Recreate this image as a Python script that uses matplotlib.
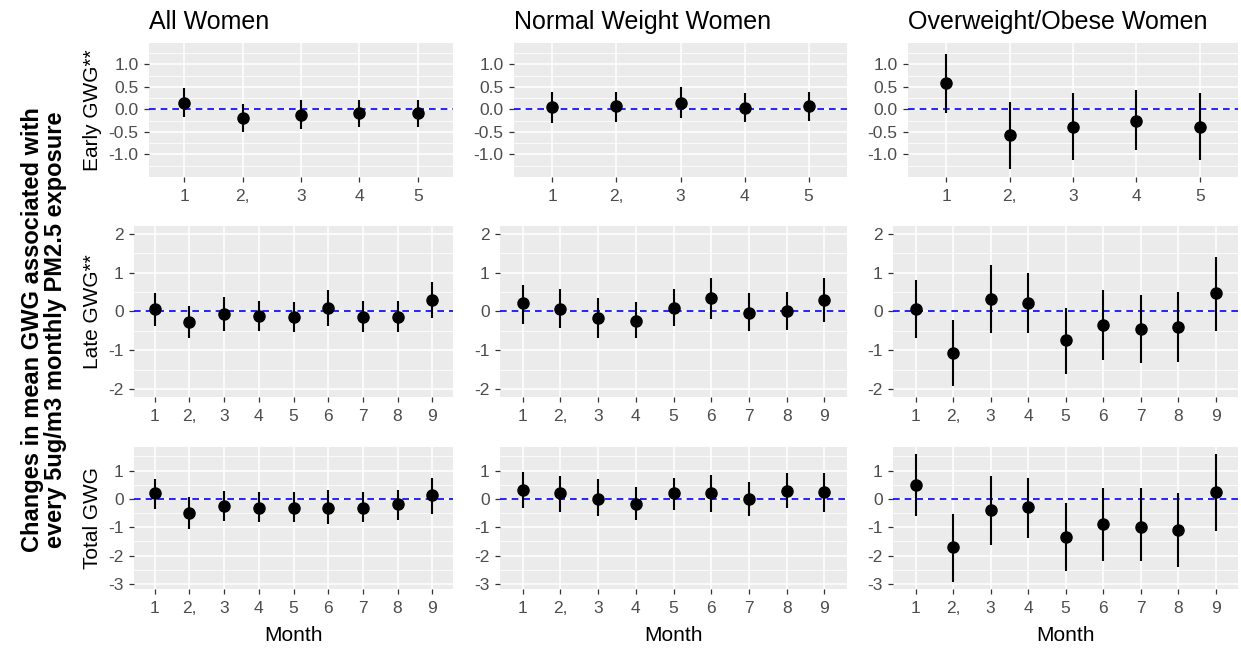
import numpy as np
import matplotlib.pyplot as plt
from matplotlib.ticker import FixedLocator

plt.rcParams['font.family'] = ['Liberation Sans', 'DejaVu Sans']
plt.rcParams['axes.unicode_minus'] = False

# meses
months_early = [1, 2, 3, 4, 5]
months_late = [1, 2, 3, 4, 5, 6, 7, 8, 9]
labels_early = ["1", "2,", "3", "4", "5"]
labels_late = ["1", "2,", "3", "4", "5", "6", "7", "8", "9"]

# Early GWG
all_early = [0.15, -0.20, -0.13, -0.09, -0.09]
all_early_lo = [-0.16, -0.51, -0.44, -0.39, -0.39]
all_early_hi = [0.47, 0.13, 0.21, 0.21, 0.21]
norm_early = [0.06, 0.08, 0.15, 0.04, 0.08]
norm_early_lo = [-0.31, -0.27, -0.20, -0.29, -0.25]
norm_early_hi = [0.39, 0.39, 0.49, 0.36, 0.39]
over_early = [0.58, -0.57, -0.39, -0.25, -0.39]
over_early_lo = [-0.09, -1.33, -1.13, -0.90, -1.13]
over_early_hi = [1.24, 0.17, 0.36, 0.43, 0.36]

# Late GWG
all_late = [0.06, -0.28, -0.06, -0.11, -0.15, 0.10, -0.14, -0.14, 0.29]
all_late_lo = [-0.37, -0.69, -0.50, -0.50, -0.54, -0.37, -0.54, -0.54, -0.17]
all_late_hi = [0.47, 0.13, 0.38, 0.27, 0.25, 0.55, 0.27, 0.27, 0.77]
norm_late = [0.21, 0.06, -0.17, -0.24, 0.10, 0.36, -0.03, 0.02, 0.29]
norm_late_lo = [-0.32, -0.43, -0.69, -0.69, -0.37, -0.20, -0.50, -0.47, -0.28]
norm_late_hi = [0.68, 0.57, 0.36, 0.25, 0.57, 0.87, 0.47, 0.50, 0.85]
over_late = [0.06, -1.07, 0.32, 0.21, -0.73, -0.35, -0.44, -0.39, 0.47]
over_late_lo = [-0.69, -1.91, -0.56, -0.56, -1.61, -1.26, -1.33, -1.31, -0.51]
over_late_hi = [0.80, -0.21, 1.19, 1.00, 0.09, 0.55, 0.42, 0.50, 1.41]

# Total GWG
all_total = [0.19, -0.50, -0.25, -0.31, -0.31, -0.31, -0.31, -0.19, 0.13]
all_total_lo = [-0.35, -1.07, -0.79, -0.81, -0.81, -0.88, -0.81, -0.76, -0.52]
all_total_hi = [0.69, 0.07, 0.29, 0.23, 0.23, 0.33, 0.23, 0.33, 0.75]
norm_total = [0.33, 0.19, 0.01, -0.19, 0.19, 0.19, 0.01, 0.29, 0.24]
norm_total_lo = [-0.31, -0.46, -0.62, -0.76, -0.40, -0.46, -0.62, -0.31, -0.46]
norm_total_hi = [0.96, 0.79, 0.69, 0.43, 0.75, 0.85, 0.58, 0.90, 0.90]
over_total = [0.49, -1.71, -0.40, -0.29, -1.36, -0.88, -1.00, -1.10, 0.24]
over_total_lo = [-0.62, -2.93, -1.62, -1.38, -2.55, -2.19, -2.19, -2.40, -1.14]
over_total_hi = [1.60, -0.52, 0.81, 0.75, -0.13, 0.39, 0.39, 0.19, 1.60]

titles = ["All Women", "Normal Weight Women", "Overweight/Obese Women"]
row_labels = ["Early GWG**", "Late GWG**", "Total GWG"]

W, H = 1241, 650
fig = plt.figure(figsize=(W / 100, H / 100), dpi=100)

# posiciones de paneles en pixeles
cols_x = [[(149, 453), (514, 847), (908, 1238)],
          [(134, 453), (500, 847), (893, 1238)],
          [(134, 453), (500, 847), (893, 1238)]]
rows_y = [(42.7, 177), (226, 397), (447, 589)]
ylims = [(-1.5, 1.48), (-2.2, 2.2), (-3.18, 1.83)]
ymajor = [[-1.0, -0.5, 0.0, 0.5, 1.0], [-2, -1, 0, 1, 2], [-3, -2, -1, 0, 1]]
ymajor_lab = [["-1.0", "-0.5", "0.0", "0.5", "1.0"],
              ["-2", "-1", "0", "1", "2"],
              ["-3", "-2", "-1", "0", "1"]]
yminor = [[-1.25, -0.75, -0.25, 0.25, 0.75, 1.25],
          [-1.5, -0.5, 0.5, 1.5],
          [-2.5, -1.5, -0.5, 0.5, 1.5]]

data = [
    [(all_early, all_early_lo, all_early_hi), (norm_early, norm_early_lo, norm_early_hi),
     (over_early, over_early_lo, over_early_hi)],
    [(all_late, all_late_lo, all_late_hi), (norm_late, norm_late_lo, norm_late_hi),
     (over_late, over_late_lo, over_late_hi)],
    [(all_total, all_total_lo, all_total_hi), (norm_total, norm_total_lo, norm_total_hi),
     (over_total, over_total_lo, over_total_hi)],
]

for r in range(3):
    top, bottom = rows_y[r]
    if r == 0:
        meses, etiquetas = months_early, labels_early
    else:
        meses, etiquetas = months_late, labels_late
    for c in range(3):
        left, right = cols_x[r][c]
        ax = fig.add_axes([left / W, 1 - bottom / H, (right - left) / W, (bottom - top) / H])
        est, lo, hi = data[r][c]
        ax.set_facecolor('#EBEBEB')
        for s in ax.spines.values():
            s.set_visible(False)
        ax.set_xlim(0.4, len(meses) + 0.6)
        ax.set_ylim(*ylims[r])
        ax.set_xticks(meses)
        ax.set_xticklabels(etiquetas)
        ax.set_yticks(ymajor[r])
        ax.set_yticklabels(ymajor_lab[r])
        ax.yaxis.set_minor_locator(FixedLocator(yminor[r]))
        ax.grid(which='major', color='white', lw=1.1, zorder=0)
        ax.grid(which='minor', axis='y', color='white', lw=0.55, zorder=0)
        ax.set_axisbelow(True)
        ax.tick_params(which='major', length=3.5, width=0.9, color='#333333',
                       labelcolor='#4D4D4D', labelsize=12.5)
        ax.tick_params(axis='x', pad=5)
        ax.tick_params(axis='y', pad=4)
        ax.tick_params(which='minor', length=0)
        ax.axhline(0, color='blue', ls=(0, (4, 3)), lw=1.2, zorder=2)
        ax.vlines(meses, lo, hi, color='black', lw=1.5, zorder=3)
        ax.plot(meses, est, 'o', color='black', ms=8, zorder=4)
        if r == 0:
            ax.set_title(titles[c], loc='left', fontsize=18, pad=10)
        if r == 2:
            ax.set_xlabel('Month', fontsize=15, labelpad=7)
        if c == 0:
            ax.set_ylabel(row_labels[r], fontsize=15, va='center')
            ax.yaxis.set_label_coords(92 / W, 1 - (top + bottom) / 2 / H,
                                      transform=fig.transFigure)

fig.text(44 / W, 1 - 330 / H,
         "Changes in mean GWG associated with\nevery 5ug/m3 monthly PM2.5 exposure",
         rotation=90, ha='center', va='center', fontsize=17, fontweight='bold',
         linespacing=1.05, multialignment='center')

fig.savefig('out.png', dpi=100)
